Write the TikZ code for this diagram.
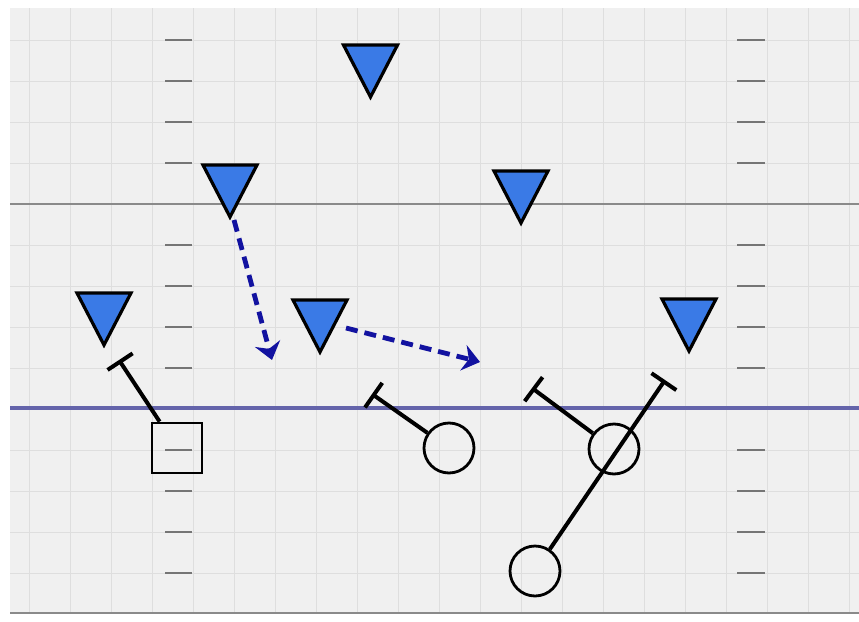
\documentclass[tikz,border=0pt]{standalone}
\usetikzlibrary{arrows.meta,calc}
\definecolor{fieldbg}{HTML}{F0F0F0}
\definecolor{gridc}{HTML}{DEDEDE}
\definecolor{yardc}{HTML}{8A8A8A}
\definecolor{losc}{HTML}{6464AA}
\definecolor{defc}{RGB}{58,122,230}
\definecolor{routec}{RGB}{18,18,160}
\tikzset{
  gridline/.style={gridc, line width=1pt},
  hash/.style={yardc!85!black, line width=1.8pt},
  yardline/.style={yardc, line width=2.6pt},
  losline/.style={losc, line width=4pt},
  defender/.style={draw=black, fill=defc, line width=3.2pt, line join=miter},
  offsq/.style={draw=black, line width=2.8pt, rectangle, minimum size=50pt, inner sep=0pt},
  offpl/.style={draw=black, line width=2.8pt, circle, minimum size=50pt, inner sep=0pt},
  blockline/.style={black, line width=4pt, -{Bar[width=30pt]}},
  route/.style={routec, line width=4.8pt, dash pattern=on 12pt off 7pt, -{Stealth[length=17pt,width=26pt]}}
}
\begin{document}
\begin{tikzpicture}[x=1pt,y=-1pt]
\useasboundingbox (0,0) rectangle (859,621);
\fill[white] (0,0) rectangle (859,621);
\fill[fieldbg] (10,8) rectangle (859,614);
\begin{scope}
\clip (10,8) rectangle (859,614);
\foreach \x in {29,70,...,849} \draw[gridline] (\x,8) -- (\x,614);
\foreach \y in {40,81,...,573} \draw[gridline] (10,\y) -- (859,\y);
\end{scope}
\foreach \y in {40,81,122,163,245,286,327,368,450,491,532,573} {
  \draw[hash] (165,\y) -- (192,\y);
  \draw[hash] (737,\y) -- (765,\y);
}
\draw[yardline] (10,204) -- (859,204);
\draw[yardline] (10,613) -- (859,613);
\draw[losline] (10,408) -- (859,408);
% defenders
\coordinate (d1) at (370.5,71);
\coordinate (d2) at (521,197);
\coordinate (d3) at (230,191);
\coordinate (d4) at (104,319);
\coordinate (d5) at (320,326);
\coordinate (d6) at (689,325);
\foreach \d in {d1,d2,d3,d4,d5,d6}
  \draw[defender] (\d) ++(-27,-26) -- ++(54,0) -- ++(-27,52) -- cycle;
% offense
\node[offsq] (q) at (177,448) {};
\node[offpl] (c1) at (449,448) {};
\node[offpl] (c2) at (614,449) {};
\node[offpl] (c3) at (535,571) {};
% block ends
\coordinate (k1) at (119,360);
\coordinate (k2) at (372,394);
\coordinate (k3) at (532,388);
\coordinate (k4) at (665,380);
\draw[blockline] (q) -- (k1);
\draw[blockline] (c1) -- (k2);
\draw[blockline] (c2) -- (k3);
\draw[blockline] (c3) -- (k4);
% routes
\coordinate (a1) at (272,360);
\coordinate (a2) at (480,362);
\draw[route] ($(d3)+(4,29)$) -- (a1);
\draw[route] ($(d5)+(26,2)$) -- (a2);
\end{tikzpicture}
\end{document}
